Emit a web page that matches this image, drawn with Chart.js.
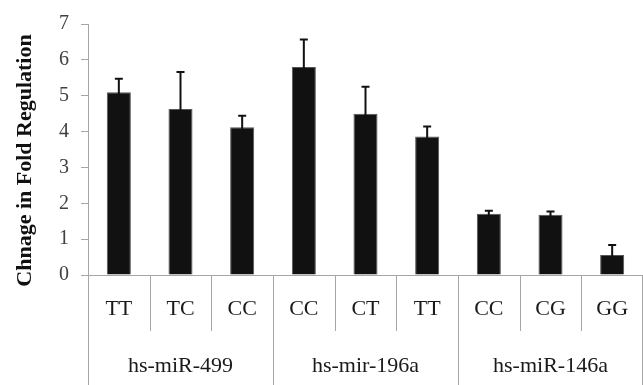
<!DOCTYPE html>
<html>
<head>
<meta charset="utf-8">
<script src="https://cdn.jsdelivr.net/npm/chart.js@4"></script>
<style>
  html, body { margin: 0; padding: 0; background: #fff; }
  #wrap { width: 643px; height: 385px; }
</style>
</head>
<body>
<div id="wrap"><canvas id="myChart"></canvas></div>
<script>
// genotype per bar, grouped by miRNA
const genotypes = ['TT', 'TC', 'CC', 'CC', 'CT', 'TT', 'CC', 'CG', 'GG'];
const groups = ['hs-miR-499', 'hs-mir-196a', 'hs-miR-146a'];
const groupSize = 3;
const foldChange = [5.1, 4.63, 4.12, 5.8, 4.5, 3.86, 1.71, 1.68, 0.56];
const errors = [0.37, 1.03, 0.32, 0.77, 0.75, 0.28, 0.08, 0.09, 0.28];
const yTicks = [0, 1, 2, 3, 4, 5, 6, 7];

const serif = "'Liberation Serif', 'Times New Roman', serif";
const lineGray = '#a6a6a6';

// error bars + two-tier category axis + y title
const extras = {
  id: 'extras',
  afterDatasetsDraw(chart) {
    const ctx = chart.ctx;
    const x = chart.scales.x;
    const y = chart.scales.y;

    ctx.save();
    ctx.strokeStyle = '#111';
    ctx.lineWidth = 2;
    foldChange.forEach((v, i) => {
      const px = x.getPixelForValue(i);
      const top = y.getPixelForValue(v + errors[i]);
      const bot = y.getPixelForValue(v - errors[i]);
      ctx.beginPath();
      ctx.moveTo(px, top);
      ctx.lineTo(px, bot);
      ctx.moveTo(px - 4, top);
      ctx.lineTo(px + 4, top);
      ctx.stroke();
    });
    ctx.restore();
  },
  afterDraw(chart) {
    const ctx = chart.ctx;
    const x = chart.scales.x;
    const area = chart.chartArea;
    const h = chart.height;
    const step = x.getPixelForValue(1) - x.getPixelForValue(0);

    ctx.save();
    ctx.strokeStyle = lineGray;
    ctx.lineWidth = 1;
    // x axis line
    ctx.beginPath();
    ctx.moveTo(area.left, area.bottom + 0.5);
    ctx.lineTo(area.right, area.bottom + 0.5);
    ctx.stroke();
    // dividers
    for (let i = 0; i <= genotypes.length; i++) {
      let px = Math.round(x.getPixelForValue(i) - step / 2) + 0.5;
      if (i === genotypes.length) px = Math.min(px, chart.width - 0.5);
      const isGroup = i % groupSize === 0;
      ctx.beginPath();
      ctx.moveTo(px, area.bottom);
      ctx.lineTo(px, isGroup ? h : area.bottom + 56);
      ctx.stroke();
    }

    ctx.fillStyle = '#1a1a1a';
    ctx.font = '22px ' + serif;
    ctx.textAlign = 'center';
    ctx.textBaseline = 'alphabetic';
    genotypes.forEach((g, i) => {
      ctx.fillText(g, x.getPixelForValue(i), area.bottom + 40);
    });
    groups.forEach((g, j) => {
      const c = x.getPixelForValue(j * groupSize + (groupSize - 1) / 2);
      ctx.fillText(g, c, area.bottom + 97);
    });

    // y axis title
    ctx.translate(31, 160.5);
    ctx.rotate(-Math.PI / 2);
    ctx.font = 'bold 22px ' + serif;
    ctx.fillStyle = '#111';
    ctx.fillText('Chnage in Fold Regulation', 0, 0);
    ctx.restore();
  }
};

new Chart(document.getElementById('myChart'), {
  type: 'bar',
  data: {
    labels: genotypes,
    datasets: [{
      data: foldChange,
      backgroundColor: '#111111',
      borderColor: '#555555',
      borderWidth: 1,
      barPercentage: 0.39,
      categoryPercentage: 1.0
    }]
  },
  options: {
    responsive: true,
    maintainAspectRatio: false,
    animation: false,
    layout: { padding: { top: 16, bottom: 110, right: 0, left: 0 } },
    plugins: {
      legend: { display: false },
      tooltip: { enabled: false }
    },
    scales: {
      x: {
        display: false,
        offset: true
      },
      y: {
        min: 0,
        max: 7,
        afterBuildTicks(scale) {
          scale.ticks = yTicks.map(v => ({ value: v }));
        },
        afterFit(scale) {
          scale.width = 88;
        },
        border: { display: true, color: lineGray, width: 1 },
        grid: {
          drawOnChartArea: false,
          drawTicks: true,
          tickLength: 7,
          color: lineGray
        },
        ticks: {
          padding: 12,
          color: '#404040',
          font: { family: serif, size: 20 }
        }
      }
    }
  },
  plugins: [extras]
});
</script>
</body>
</html>
